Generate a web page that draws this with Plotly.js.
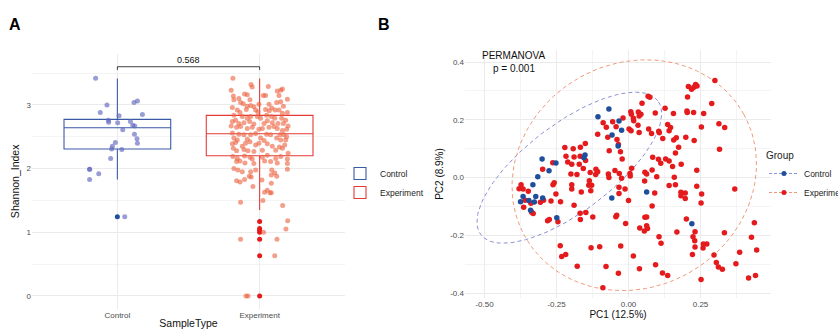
<!DOCTYPE html>
<html><head><meta charset="utf-8">
<script src="https://cdn.plot.ly/plotly-3.0.1.min.js"></script>
<style>body{margin:0;padding:0;background:#fff}#chart{width:838px;height:329px}</style>
</head><body><div id="chart"></div>
<script>
// ---------- Panel A data ----------
const groups = ['Control', 'Experiment'];
const boxQ1 = [2.308, 2.203];
const boxMedian = [2.642, 2.548];
const boxQ3 = [2.774, 2.836];
const boxLow = [1.83, 1.35];
const boxHigh = [3.417, 3.417];
const ctrlOutliers = [1.245];
const expOutliers = [1.17, 1.06, 1.03, 1.00, 0.89, 0.63, 0.00];
const ctrlJitter = [-0.153,-0.073,0.117,0.141,-0.120,0.176,0.012,-0.063,-0.061,0.002,0.092,0.108,0.122,0.038,0.120,0.138,0.141,-0.014,-0.035,-0.040,0.031,-0.047,-0.195,-0.195,-0.131,-0.195,0.052];
const ctrlShannon = [3.42,3.00,3.04,3.06,2.88,2.85,2.83,2.76,2.73,2.72,2.74,2.68,2.67,2.61,2.54,2.47,2.40,2.41,2.35,2.31,2.30,2.16,1.99,1.99,1.92,1.83,1.245];
const expJitter = [-0.188,-0.061,-0.052,0.061,-0.200,0.160,0.148,0.124,-0.106,-0.087,-0.185,0.026,0.042,0.136,-0.146,-0.181,-0.068,0.195,0.148,0.066,-0.134,-0.115,-0.087,-0.063,-0.040,-0.005,0.120,0.167,-0.192,-0.157,-0.138,-0.094,-0.028,-0.012,0.042,0.068,0.085,0.108,0.136,0.160,0.195,-0.181,-0.122,-0.087,-0.063,-0.016,0.007,0.049,0.082,0.106,0.155,0.183,-0.192,-0.169,-0.146,-0.110,-0.070,-0.040,0.031,0.054,0.089,0.129,0.167,0.200,-0.200,-0.162,-0.134,-0.087,-0.052,-0.005,0.019,0.066,0.101,0.124,0.160,0.190,-0.192,-0.146,-0.110,-0.063,-0.028,0.049,0.077,0.143,0.171,0.190,-0.181,-0.157,-0.087,-0.068,0.007,0.031,0.120,0.148,0.183,-0.192,-0.169,-0.122,-0.099,-0.028,-0.005,0.054,0.089,0.139,0.176,-0.185,-0.162,-0.110,-0.082,-0.040,0.019,0.113,0.160,0.200,-0.188,-0.157,-0.106,-0.068,0.019,0.054,0.113,0.148,0.195,-0.162,-0.138,-0.103,-0.052,-0.040,0.035,0.077,0.124,0.195,-0.181,-0.153,-0.122,-0.063,-0.028,0.085,0.106,0.195,-0.162,-0.138,-0.106,-0.073,-0.059,0.016,0.082,0.120,-0.047,0.082,0.035,0.054,0.082,0.073,-0.134,0.023,0.162,0.197,0.185,0.028,-0.134,0.122,0.106,-0.096,-0.082];
const expShannon = [3.42,3.32,3.28,3.29,3.23,3.25,3.23,3.22,3.17,3.16,3.14,3.15,3.15,3.15,3.10,3.08,3.08,3.09,3.05,3.01,3.04,3.02,2.98,2.99,2.97,3.01,3.04,2.98,2.96,2.92,2.88,2.93,2.92,2.89,2.93,2.91,2.95,2.92,2.92,2.87,2.88,2.84,2.82,2.79,2.82,2.82,2.79,2.84,2.82,2.79,2.79,2.76,2.74,2.76,2.71,2.72,2.74,2.70,2.71,2.75,2.72,2.71,2.71,2.67,2.67,2.65,2.66,2.63,2.65,2.62,2.63,2.65,2.66,2.63,2.60,2.62,2.56,2.54,2.53,2.53,2.55,2.54,2.53,2.53,2.53,2.50,2.48,2.45,2.46,2.42,2.48,2.44,2.48,2.45,2.45,2.39,2.41,2.35,2.40,2.37,2.40,2.39,2.35,2.34,2.37,2.32,2.28,2.30,2.28,2.27,2.29,2.29,2.32,2.24,2.19,2.16,2.20,2.18,2.18,2.21,2.16,2.19,2.15,2.11,2.12,2.09,2.15,2.08,2.12,2.11,2.09,2.08,2.00,1.98,1.95,1.95,1.98,1.98,1.93,1.99,1.81,1.79,1.83,1.88,1.87,1.82,1.90,1.88,1.72,1.77,1.63,1.66,1.62,1.62,1.47,1.50,1.42,1.18,1.05,1.00,0.89,0.89,0.63,0.00,0.00];
const pLabel = '0.568';
const bracketY = [3.55, 3.60, 3.60, 3.55];

// ---------- Panel B data ----------
const ctrlPC1 = [-0.068,-0.106,-0.033,-0.024,-0.057,-0.036,-0.151,-0.155,-0.300,-0.252,-0.276,-0.315,-0.332,-0.366,-0.375,-0.346,-0.322,-0.327,-0.298,-0.340,-0.249,-0.058,0.063,0.220];
const ctrlPC2 = [0.237,0.210,0.196,0.164,0.147,0.109,0.078,0.068,0.064,0.050,0.023,0.003,-0.025,-0.066,-0.084,-0.080,-0.066,-0.085,-0.071,-0.113,-0.139,-0.071,-0.050,-0.160];
const expPC1 = [-0.088,-0.077,-0.055,-0.107,-0.072,-0.040,-0.067,-0.221,-0.192,-0.167,-0.150,-0.168,-0.189,-0.149,-0.217,-0.263,-0.298,-0.211,-0.197,-0.171,-0.157,-0.113,-0.107,-0.047,-0.032,
0.300,0.208,0.219,0.227,0.233,0.238,0.205,0.289,0.068,0.074,0.047,0.127,0.203,0.204,0.226,0.261,0.156,0.093,0.008,0.010,0.034,0.040,0.037,0.043,0.017,0.018,-0.019,-0.043,0.002,0.009,0.033,0.037,0.070,0.080,0.105,0.107,0.136,0.146,0.141,0.119,0.157,0.166,0.199,0.228,0.253,0.314,0.334,0.316,0.174,0.163,-0.035,-0.028,-0.022,0.011,0.005,0.057,0.063,0.082,0.084,0.104,0.112,0.129,0.141,0.153,0.183,0.237,
-0.200,-0.179,-0.133,-0.114,-0.070,-0.068,-0.373,-0.380,-0.366,-0.348,-0.359,-0.364,-0.336,-0.331,-0.339,-0.306,-0.295,-0.269,-0.262,-0.258,-0.252,-0.236,-0.197,-0.197,-0.164,-0.136,-0.138,-0.128,-0.131,-0.189,-0.168,-0.167,-0.148,-0.124,-0.281,-0.275,-0.245,-0.237,-0.232,-0.218,-0.178,-0.130,-0.100,-0.078,-0.089,-0.035,
0.006,-0.024,0.159,0.098,-0.033,-0.033,-0.012,0.056,0.141,0.163,0.182,0.197,0.182,0.197,0.237,0.254,0.252,0.369,0.091,0.000,0.082,-0.041,-0.044,-0.010,0.057,0.063,0.063,0.066,0.055,0.039,0.106,0.113,0.168,0.201,0.231,0.224,0.230,0.231,0.222,0.260,0.272,0.259,0.297,0.305,0.312,0.326,0.333,0.386,0.373,0.427,0.437,0.445,0.417,0.441,-0.027,0.017,0.038,0.094,0.118,0.136,0.252];
const expPC2 = [0.190,0.174,0.193,0.150,0.139,0.132,0.093,0.104,0.100,0.105,0.118,0.074,0.071,0.059,0.074,0.051,0.029,0.054,0.046,0.046,0.031,0.029,0.020,0.024,0.014,
0.336,0.315,0.306,0.313,0.322,0.317,0.279,0.256,0.281,0.278,0.257,0.240,0.230,0.225,0.225,0.222,0.222,0.223,0.228,0.219,0.227,0.219,0.213,0.219,0.205,0.197,0.206,0.176,0.168,0.162,0.181,0.156,0.168,0.152,0.160,0.155,0.184,0.173,0.162,0.135,0.130,0.138,0.139,0.128,0.175,0.186,0.173,0.098,0.105,0.085,0.114,0.089,0.064,0.032,0.014,0.018,0.012,0.026,0.070,0.063,0.049,0.064,0.057,0.038,0.046,0.025,
0.012,0.010,0.017,0.010,0.012,0.000,-0.025,-0.039,-0.040,-0.048,-0.079,-0.103,-0.120,-0.125,-0.089,-0.086,-0.079,-0.081,-0.025,-0.018,-0.057,-0.084,-0.025,-0.040,-0.050,-0.011,-0.027,-0.027,-0.046,-0.096,-0.124,-0.145,-0.121,-0.137,-0.150,-0.145,-0.153,-0.236,-0.274,-0.267,-0.307,-0.243,-0.240,-0.308,-0.382,-0.332,
0.005,-0.003,0.001,0.003,-0.034,-0.055,-0.040,-0.012,-0.028,-0.025,-0.051,-0.054,-0.063,-0.073,-0.030,-0.057,-0.088,-0.040,-0.054,-0.080,-0.099,-0.131,-0.136,-0.159,-0.138,-0.137,-0.167,-0.177,-0.185,-0.175,-0.205,-0.228,-0.189,-0.144,-0.188,-0.205,-0.219,-0.241,-0.267,-0.230,-0.230,-0.244,-0.268,-0.294,-0.310,-0.318,-0.191,-0.259,-0.299,-0.207,-0.157,-0.251,-0.348,-0.339,-0.237,-0.272,-0.316,-0.302,-0.331,-0.339,-0.353];
// 95% ellipse parameters per group: [centre x, centre y], [semi-axis a, semi-axis b], rotation (deg)
const ellCtrlCentre = [-0.2055, 0.034], ellCtrlAxes = [0.385, 0.152], ellCtrlAngle = 37;
const ellExpCentre = [0.02, 0.008], ellExpAxes = [0.435, 0.388], ellExpAngle = 29;
const permanovaText = ['PERMANOVA', 'p = 0.001'];

// ---------- colours ----------
const cBoxCtrl = '#3a5aa6', cBoxExp = '#e53a36';
const cPtCtrl = '#1f4e9c', cPtExp = '#e41a1c';
const cJitCtrl = 'rgba(98,104,190,0.65)', cJitExp = 'rgba(236,100,66,0.62)';
const cEllCtrl = '#8c90d4', cEllExp = '#f09a7c';

function ellipse(c, ax, deg) {
  const th = deg * Math.PI / 180, xs = [], ys = [];
  for (let i = 0; i <= 120; i++) {
    const t = 2 * Math.PI * i / 120;
    xs.push(c[0] + ax[0] * Math.cos(t) * Math.cos(th) - ax[1] * Math.sin(t) * Math.sin(th));
    ys.push(c[1] + ax[0] * Math.cos(t) * Math.sin(th) + ax[1] * Math.sin(t) * Math.cos(th));
  }
  return {x: xs, y: ys};
}

const traces = [];
const boxCols = [cBoxCtrl, cBoxExp];
groups.forEach((g, i) => {
  traces.push({type: 'box', x: [i], q1: [boxQ1[i]], median: [boxMedian[i]], q3: [boxQ3[i]],
    lowerfence: [boxLow[i]], upperfence: [boxHigh[i]], width: 0.75, whiskerwidth: 0,
    boxpoints: false, name: g, line: {color: boxCols[i], width: 1.1},
    fillcolor: 'rgba(255,255,255,0)', xaxis: 'x', yaxis: 'y', legend: 'legend', hoverinfo: 'skip'});
});
traces.push({type: 'scatter', mode: 'markers', x: ctrlOutliers.map(() => 0), y: ctrlOutliers,
  marker: {color: cPtCtrl, size: 5}, showlegend: false, xaxis: 'x', yaxis: 'y'});
traces.push({type: 'scatter', mode: 'markers', x: expOutliers.map(() => 1), y: expOutliers,
  marker: {color: cPtExp, size: 5}, showlegend: false, xaxis: 'x', yaxis: 'y'});
traces.push({type: 'scatter', mode: 'markers', x: ctrlJitter.map(d => 0 + d), y: ctrlShannon,
  marker: {color: cJitCtrl, size: 5}, showlegend: false, xaxis: 'x', yaxis: 'y'});
traces.push({type: 'scatter', mode: 'markers', x: expJitter.map(d => 1 + d), y: expShannon,
  marker: {color: cJitExp, size: 5}, showlegend: false, xaxis: 'x', yaxis: 'y'});
traces.push({type: 'scatter', mode: 'lines', x: [0, 0, 1, 1], y: bracketY,
  line: {color: '#111', width: 0.8}, showlegend: false, xaxis: 'x', yaxis: 'y', hoverinfo: 'skip'});

// Panel B
const eC = ellipse(ellCtrlCentre, ellCtrlAxes, ellCtrlAngle);
const eE = ellipse(ellExpCentre, ellExpAxes, ellExpAngle);
traces.push({type: 'scatter', mode: 'lines', x: eC.x, y: eC.y, line: {color: cEllCtrl, width: 1, dash: '4px,3px'},
  showlegend: false, xaxis: 'x2', yaxis: 'y2', hoverinfo: 'skip'});
traces.push({type: 'scatter', mode: 'lines', x: eE.x, y: eE.y, line: {color: cEllExp, width: 1, dash: '4px,3px'},
  showlegend: false, xaxis: 'x2', yaxis: 'y2', hoverinfo: 'skip'});
traces.push({type: 'scatter', mode: 'markers', x: expPC1, y: expPC2, name: 'Experiment',
  marker: {color: cPtExp, size: 5.5}, showlegend: false, xaxis: 'x2', yaxis: 'y2'});
traces.push({type: 'scatter', mode: 'markers', x: ctrlPC1, y: ctrlPC2, name: 'Control',
  marker: {color: cPtCtrl, size: 5.5}, showlegend: false, xaxis: 'x2', yaxis: 'y2'});
// legend keys for panel B
traces.push({type: 'scatter', mode: 'lines+markers', x: [null], y: [null], name: 'Control',
  line: {color: cEllCtrl, width: 1, dash: '3px,2px'}, marker: {color: cPtCtrl, size: 5},
  legend: 'legend2', xaxis: 'x2', yaxis: 'y2'});
traces.push({type: 'scatter', mode: 'lines+markers', x: [null], y: [null], name: 'Experiment',
  line: {color: cEllExp, width: 1, dash: '3px,2px'}, marker: {color: cPtExp, size: 5},
  legend: 'legend2', xaxis: 'x2', yaxis: 'y2'});

const W = 838, H = 329;
const font = 'Liberation Sans, Arial, sans-serif';
const tickFont = {family: font, size: 8, color: '#4d4d4d'};
const titleFont = {family: font, size: 10.5, color: '#111'};
const grid = '#ebebeb', minorGrid = '#f4f4f4';

const layout = {
  width: W, height: H, margin: {l: 0, r: 0, t: 0, b: 0, autoexpand: false},
  paper_bgcolor: '#fff', plot_bgcolor: '#fff', boxmode: 'overlay',
  font: {family: font},
  xaxis: {domain: [32 / W, 345 / W], range: [-0.6, 1.6], tickmode: 'array', tickvals: [0, 1], ticktext: groups,
    showgrid: true, gridcolor: grid, gridwidth: 1, zeroline: false, showline: false, ticks: '',
    tickfont: tickFont, title: {text: 'SampleType', font: titleFont, standoff: 2}, anchor: 'y', fixedrange: true},
  yaxis: {domain: [(H - 308.7) / H, (H - 54) / H], range: [-0.2, 3.8], tickmode: 'array', tickvals: [0, 1, 2, 3],
    showgrid: true, gridcolor: grid, zeroline: false, showline: false, ticks: '',
    minor: {tickmode: 'array', tickvals: [0.5, 1.5, 2.5, 3.5], showgrid: true, gridcolor: minorGrid, ticks: ''},
    tickfont: tickFont, title: {text: 'Shannon_Index', font: titleFont, standoff: 4}, anchor: 'x', fixedrange: true},
  xaxis2: {domain: [465 / W, 771 / W], range: [-0.5677, 0.4948], tickmode: 'array',
    tickvals: [-0.5, -0.25, 0, 0.25], ticktext: ['-0.50', '-0.25', '0.00', '0.25'],
    minor: {tickmode: 'array', tickvals: [-0.375, -0.125, 0.125, 0.375], showgrid: true, gridcolor: minorGrid, ticks: ''},
    showgrid: true, gridcolor: grid, zeroline: false, showline: false, ticks: '',
    tickfont: tickFont, title: {text: 'PC1 (12.5%)', font: {family: font, size: 10, color: '#111'}, standoff: 2}, anchor: 'y2'},
  yaxis2: {domain: [(H - 298) / H, (H - 50) / H], range: [-0.4173, 0.4416], tickmode: 'array',
    tickvals: [-0.4, -0.2, 0, 0.2, 0.4], ticktext: ['-0.4', '-0.2', '0.0', '0.2', '0.4'],
    minor: {tickmode: 'array', tickvals: [-0.3, -0.1, 0.1, 0.3], showgrid: true, gridcolor: minorGrid, ticks: ''},
    showgrid: true, gridcolor: grid, zeroline: false, showline: false, ticks: '',
    tickfont: tickFont, title: {text: 'PC2 (8.9%)', font: {family: font, size: 10, color: '#111'}, standoff: 4}, anchor: 'x2'},
  legend: {x: 340 / W, y: (H - 159) / H, xanchor: 'left', yanchor: 'top', bgcolor: 'rgba(0,0,0,0)',
    font: {family: font, size: 8.5, color: '#222'}, tracegroupgap: 0, itemwidth: 30},
  legend2: {x: 764 / W, y: (H - 146) / H, xanchor: 'left', yanchor: 'top', bgcolor: 'rgba(0,0,0,0)',
    font: {family: font, size: 8.5, color: '#222'}, title: {text: 'Group', font: {family: font, size: 10, color: '#222'}},
    itemwidth: 30},
  annotations: [
    {text: '<b>A</b>', x: 15 / W, y: (H - 25) / H, xref: 'paper', yref: 'paper', showarrow: false,
      font: {family: font, size: 16, color: '#000'}, xanchor: 'center', yanchor: 'middle'},
    {text: '<b>B</b>', x: 384 / W, y: (H - 25) / H, xref: 'paper', yref: 'paper', showarrow: false,
      font: {family: font, size: 16, color: '#000'}, xanchor: 'center', yanchor: 'middle'},
    {text: pLabel, x: 0.5, y: bracketY[1], xref: 'x', yref: 'y', showarrow: false, yanchor: 'bottom', yshift: 0,
      font: {family: font, size: 9, color: '#111'}},
    {text: permanovaText[0], x: -0.398, y: 0.424, xref: 'x2', yref: 'y2', showarrow: false,
      font: {family: font, size: 10, color: '#111'}},
    {text: permanovaText[1], x: -0.398, y: 0.376, xref: 'x2', yref: 'y2', showarrow: false,
      font: {family: font, size: 10, color: '#111'}}
  ]
};
Plotly.newPlot('chart', traces, layout, {displayModeBar: false, staticPlot: true});
</script></body></html>
